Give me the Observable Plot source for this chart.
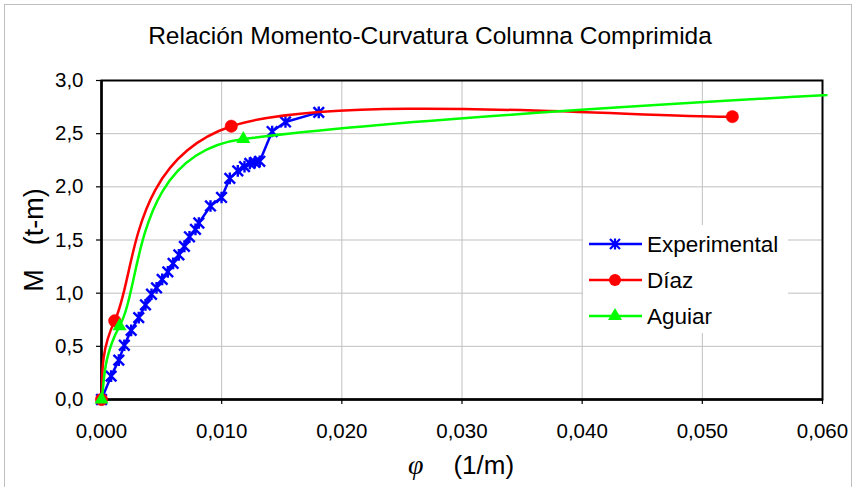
<!DOCTYPE html>
<html><head><meta charset="utf-8">
<script src="https://cdn.jsdelivr.net/npm/d3@7"></script>
<script src="https://cdn.jsdelivr.net/npm/@observablehq/plot@0.6"></script>
<style>
body{margin:0;background:#fff;}
#chart{position:relative;width:853px;height:487px;overflow:hidden;}
#border{position:absolute;left:4px;top:4px;width:848px;height:500px;border:1px solid #bfbfbf;box-sizing:border-box;}
#chart svg{position:absolute;left:0;top:0;}
</style></head><body><div id="chart"><div id="border"></div></div>
<script>
const title = "Relación Momento-Curvatura Columna Comprimida";
const xLabelSymbol = "φ";
const xLabelUnit = "(1/m)";
const yLabelSymbol = "M";
const yLabelUnit = "(t-m)";
const xTicks = [0, 0.01, 0.02, 0.03, 0.04, 0.05, 0.06];
const yTicks = [0, 0.5, 1.0, 1.5, 2.0, 2.5, 3.0];
const seriesNames = ["Experimental", "Díaz", "Aguiar"];
const seriesColors = ["#0000ff", "#ff0000", "#00ff00"];

const expPhi = [0, 0.0008, 0.00144, 0.0019, 0.00247, 0.0031, 0.00366, 0.00416, 0.00458, 0.00505, 0.00552, 0.00596, 0.00644, 0.0069, 0.00732, 0.00782, 0.0081, 0.00907, 0.00999, 0.01068, 0.01134, 0.0119, 0.01234, 0.01276, 0.01317, 0.0142, 0.01531, 0.01808];
const expM   = [0, 0.22, 0.37, 0.51, 0.65, 0.77, 0.89, 0.99, 1.05, 1.13, 1.20, 1.28, 1.36, 1.44, 1.53, 1.60, 1.66, 1.82, 1.90, 2.08, 2.15, 2.19, 2.22, 2.23, 2.24, 2.52, 2.61, 2.70];
const diazPhi = [0, 0.0011, 0.0108, 0.0525];
const diazM   = [0, 0.74, 2.57, 2.66];
// last Aguiar point lies beyond the axis range (line runs off the right edge)
const aguiarPhi = [0, 0.0015, 0.0118, 0.2];
const aguiarM   = [0, 0.69, 2.45, 3.57];

const toRows = (xs, ys) => xs.map((x, i) => ({phi: x, m: ys[i]}));
const exp = toRows(expPhi, expM);
const diaz = toRows(diazPhi, diazM);
const aguiar = toRows(aguiarPhi, aguiarM);

// spreadsheet-style smoothed line: Bezier segments, arms 1/6 of neighbour chord, capped at half segment
function smoothCurve(context) {
  let pts;
  return {
    areaStart() {}, areaEnd() {},
    lineStart() { pts = []; },
    point(x, y) { pts.push([+x, +y]); },
    lineEnd() {
      const n = pts.length;
      if (!n) return;
      context.moveTo(pts[0][0], pts[0][1]);
      const dist = (a, b) => Math.hypot(b[0] - a[0], b[1] - a[1]);
      for (let i = 0; i < n - 1; i++) {
        const p0 = pts[Math.max(i - 1, 0)], p1 = pts[i], p2 = pts[i + 1], p3 = pts[Math.min(i + 2, n - 1)];
        const d12 = dist(p1, p2), d02 = dist(p0, p2) || 1, d13 = dist(p1, p3) || 1;
        const f0 = d02 / 6 < d12 / 2 ? 1 / 6 : d12 / (2 * d02);
        const f1 = d13 / 6 < d12 / 2 ? 1 / 6 : d12 / (2 * d13);
        context.bezierCurveTo(
          p1[0] + f0 * (p2[0] - p0[0]), p1[1] + f0 * (p2[1] - p0[1]),
          p2[0] - f1 * (p3[0] - p1[0]), p2[1] - f1 * (p3[1] - p1[1]),
          p2[0], p2[1]);
      }
    }
  };
}

const star = {draw(ctx, size) {
  const r = Math.sqrt(size / Math.PI);
  ctx.moveTo(-r, -r); ctx.lineTo(r, r);
  ctx.moveTo(r, -r); ctx.lineTo(-r, r);
  ctx.moveTo(0, -r * 1.1); ctx.lineTo(0, r * 1.1);
}};

const fmtX = d => d.toFixed(3).replace(".", ",");
const fmtY = d => d.toFixed(1).replace(".", ",");
const FONT = "'Liberation Sans', Arial, sans-serif";

const plot = Plot.plot({
  width: 853, height: 487,
  marginLeft: 101, marginRight: 31, marginTop: 80, marginBottom: 88,
  style: {fontFamily: FONT, fontSize: "20.5px", color: "#000", background: "transparent", overflow: "visible"},
  x: {domain: [0, 0.06]},
  y: {domain: [0, 3]},
  marks: [
    Plot.gridX(xTicks, {stroke: "#c0c0c0", strokeOpacity: 1, strokeWidth: 1}),
    Plot.gridY(yTicks, {stroke: "#c0c0c0", strokeOpacity: 1, strokeWidth: 1}),
    Plot.frame({stroke: "#000", strokeWidth: 2}),
    Plot.ruleX([0], {stroke: "#000", strokeWidth: 2.5}),
    Plot.ruleY([0], {stroke: "#000", strokeWidth: 2.5}),
    Plot.axisX({ticks: xTicks, tickFormat: fmtX, tickSize: 5, tickPadding: 19, label: null, stroke: "#000", strokeWidth: 1.2}),
    Plot.axisY({ticks: yTicks, tickFormat: fmtY, tickSize: 5, tickPadding: 13, label: null, stroke: "#000", strokeWidth: 1.2}),
    Plot.line(exp, {x: "phi", y: "m", stroke: seriesColors[0], strokeWidth: 2.5}),
    Plot.dot(exp, {x: "phi", y: "m", symbol: star, r: 5.3, stroke: seriesColors[0], strokeWidth: 2.4}),
    Plot.line(diaz, {x: "phi", y: "m", stroke: seriesColors[1], strokeWidth: 2.5, curve: smoothCurve}),
    Plot.dot(diaz, {x: "phi", y: "m", r: 6.2, fill: seriesColors[1], stroke: seriesColors[1], strokeWidth: 0.5}),
    Plot.line(aguiar, {x: "phi", y: "m", stroke: seriesColors[2], strokeWidth: 2.5, curve: smoothCurve, ariaDescription: "aguiar-line"}),
    Plot.dot(aguiar.filter(d => d.phi <= 0.06), {x: "phi", y: "m", symbol: "triangle", r: 5.2, fill: seriesColors[2]})
  ]
});
document.getElementById("chart").appendChild(plot);

const svg = d3.select(plot);
// clip the off-range Aguiar line just past the plot's right edge
const xs = plot.scale("x"), ys = plot.scale("y");
const cx0 = xs.apply(0) - 3, cx1 = xs.apply(0.06) + 5, cy0 = ys.apply(3) - 3, cy1 = ys.apply(0) + 3;
svg.append("defs").append("clipPath").attr("id", "aguiarClip").append("rect")
  .attr("x", cx0).attr("y", cy0).attr("width", cx1 - cx0).attr("height", cy1 - cy0);
svg.select('[aria-description="aguiar-line"]').attr("clip-path", "url(#aguiarClip)");

svg.append("text").attr("x", 430).attr("y", 44).attr("text-anchor", "middle")
  .style("font-family", FONT).style("font-size", "24.5px").attr("fill", "#000").text(title);

const xl = svg.append("text").attr("x", 461).attr("y", 474).attr("text-anchor", "middle")
  .style("font-family", FONT).style("font-size", "26px").attr("fill", "#000");
xl.append("tspan").style("font-family", "'Liberation Serif', 'Times New Roman', serif").style("font-style", "italic").style("font-size", "28px").text(xLabelSymbol);
xl.append("tspan").attr("dx", 30).text(xLabelUnit);

const yl = svg.append("text").attr("transform", "translate(43,240) rotate(-90)").attr("text-anchor", "middle")
  .style("font-family", FONT).style("font-size", "27px").attr("fill", "#000");
yl.append("tspan").text(yLabelSymbol);
yl.append("tspan").attr("dx", 24).text(yLabelUnit);

// legend
const lg = svg.append("g");
lg.append("rect").attr("x", 583).attr("y", 225).attr("width", 205).attr("height", 108).attr("fill", "#fff");
const symbols = [d3.symbol(star, Math.PI * 25)(), d3.symbol(d3.symbolCircle, Math.PI * 36)(), d3.symbol(d3.symbolTriangle, Math.PI * 27)()];
seriesNames.forEach((name, i) => {
  const y = 244 + i * 36;
  lg.append("line").attr("x1", 589).attr("x2", 642).attr("y1", y).attr("y2", y).attr("stroke", seriesColors[i]).attr("stroke-width", 2.5);
  const p = lg.append("path").attr("d", symbols[i]).attr("transform", `translate(615,${y})`);
  if (i === 0) p.attr("fill", "none").attr("stroke", seriesColors[i]).attr("stroke-width", 2.2);
  else p.attr("fill", seriesColors[i]);
  lg.append("text").attr("x", 647).attr("y", y).attr("dy", "0.36em").attr("text-anchor", "start")
    .style("font-family", FONT).style("font-size", "22.5px").attr("fill", "#000").text(name);
});
</script></body></html>
